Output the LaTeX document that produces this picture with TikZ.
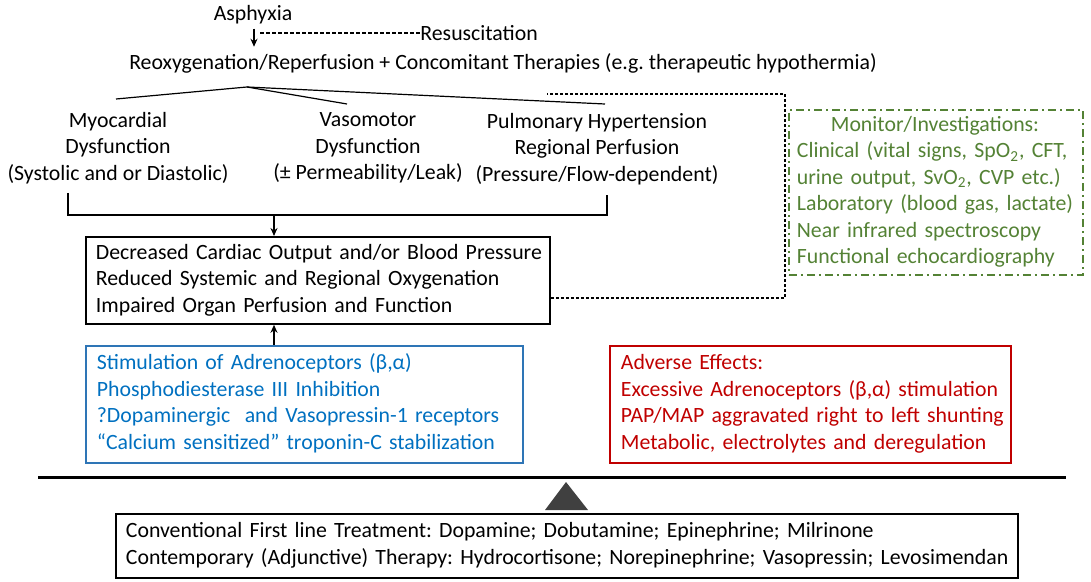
\documentclass[tikz,border=0pt]{standalone}
\usepackage{fontspec}
\setmainfont{Carlito}
\usetikzlibrary{arrows.meta, positioning}
\definecolor{monitorgreen}{RGB}{84,130,53}
\definecolor{actionblue}{RGB}{0,112,192}
\definecolor{boxblue}{RGB}{46,117,182}
\definecolor{adversered}{RGB}{192,0,0}
\definecolor{fulcrum}{RGB}{64,64,64}
% box contents, one row per printed line, never re-broken
\newcommand{\panellines}[1]{\begin{tabular}{@{}l@{}}#1\end{tabular}}

\begin{document}
\frenchspacing
\begin{tikzpicture}[x=0.5pt, y=-0.5pt,
        every node/.style={font=\fontsize{10.9}{13.25}\selectfont},
        plain text/.style={inner sep=0pt, align=center},
        panel/.style={draw, line width=0.9pt, align=left, anchor=north west, inner ysep=0pt},
        flow/.style={line width=0.6pt},
        tip/.style={-{Stealth[length=4pt, width=3.5pt]}},
        dotlink/.style={line width=0.7pt, dash pattern=on 1.5pt off 1pt}]
    \useasboundingbox (0,0) rectangle (1091,582);
    % cascade after the insult
    \node[plain text] (asph) at (253,15) {Asphyxia};
    \node[plain text, anchor=west] (resus) at (420,33) {Resuscitation};
    \node[plain text] (reox) at (503,63) {Reoxygenation/Reperfusion + Concomitant Therapies (e.g. therapeutic hypothermia)};
    \coordinate (rz) at (254,33);
    \draw[flow, tip, shorten <=2pt, shorten >=3pt] (asph.south -| rz) -- (reox.north -| rz);
    \draw[flow, dash pattern=on 2pt off 1pt] ([xshift=3pt]rz) -- (resus.west);

    \node[plain text] (myo) at (118,148) {Myocardial\\Dysfunction\\(Systolic and or Diastolic)};
    \node[plain text] (vaso) at (368,148) {Vasomotor\\Dysfunction\\(\textpm{} Permeability/Leak)};
    \node[plain text] (pulm) at (597,149) {Pulmonary Hypertension\\Regional Perfusion\\(Pressure/Flow-dependent)};
    \coordinate (apex) at (247,87);
    \coordinate (fanmyo) at (116,99);
    \coordinate (fanvaso) at (347,104);
    \coordinate (fanpulm) at (605,104);
    \draw[flow] (fanmyo) -- (apex) -- (fanvaso);
    \draw[flow] (apex) -- (fanpulm);

    % common result
    \node[panel, inner xsep=5pt, text width=222pt, minimum height=43.5pt] (dec) at (85,236)
        {\panellines{Decreased Cardiac Output and/or Blood Pressure\\
         Reduced Systemic and Regional Oxygenation\\
         Impaired Organ Perfusion and Function}};
    \coordinate (brmyo) at (68,193);
    \coordinate (brpulm) at (607,195);
    \coordinate (join) at (274,215);
    \draw[flow] (brmyo) |- (join) -| (brpulm);
    \draw[flow, tip] (join) -- (join |- dec.north);

    % monitoring
    \node[panel, draw=monitorgreen, text=monitorgreen, dash pattern=on 4pt off 2pt on 1pt off 2pt,
          inner xsep=4pt, text width=139pt, minimum height=82.5pt] (mon) at (788,109)
        {\panellines{\multicolumn{1}{@{}c@{}}{Monitor/Investigations:}\\
         Clinical (vital signs, SpO\textsubscript{2}, CFT,\\
         urine output, SvO\textsubscript{2}, CVP etc.)\\
         Laboratory (blood gas, lactate)\\
         Near infrared spectroscopy\\
         Functional echocardiography}};
    \coordinate (montop) at (547,94);
    \draw[dotlink] ([yshift=-8.75pt]dec.east) -| ([xshift=119pt]montop) -- (montop);

    % the two pans of the balance
    \node[panel, draw=boxblue, text=actionblue, inner xsep=5.5pt, text width=207.5pt, minimum height=58.5pt] (act) at (85,345)
        {\panellines{Stimulation of Adrenoceptors (β,α)\\
         Phosphodiesterase III Inhibition\\
         ?Dopaminergic\ \ and Vasopressin-1 receptors\\
         “Calcium sensitized” troponin-C stabilization}};
    \draw[flow, tip] (join |- act.north) -- (join |- dec.south);
    \node[panel, draw=adversered, text=adversered, inner xsep=5.5pt, text width=189.5pt, minimum height=58.5pt] (adv) at (609,345)
        {\panellines{Adverse Effects:\\
         Excessive Adrenoceptors (β,α) stimulation\\
         PAP/MAP aggravated right to left shunting\\
         Metabolic, electrolytes and deregulation}};

    \draw[line width=1.5pt] (38,477) -- (1066,477);
    \fill[fulcrum] (545,510) -- (566,482) -- (588,510) -- cycle;

    \node[panel, inner xsep=5pt, text width=441pt, minimum height=32pt] (drugs) at (115,513)
        {\panellines{Conventional First line Treatment: Dopamine; Dobutamine; Epinephrine; Milrinone\\
         Contemporary (Adjunctive) Therapy: Hydrocortisone; Norepinephrine; Vasopressin; Levosimendan}};
\end{tikzpicture}
\end{document}
